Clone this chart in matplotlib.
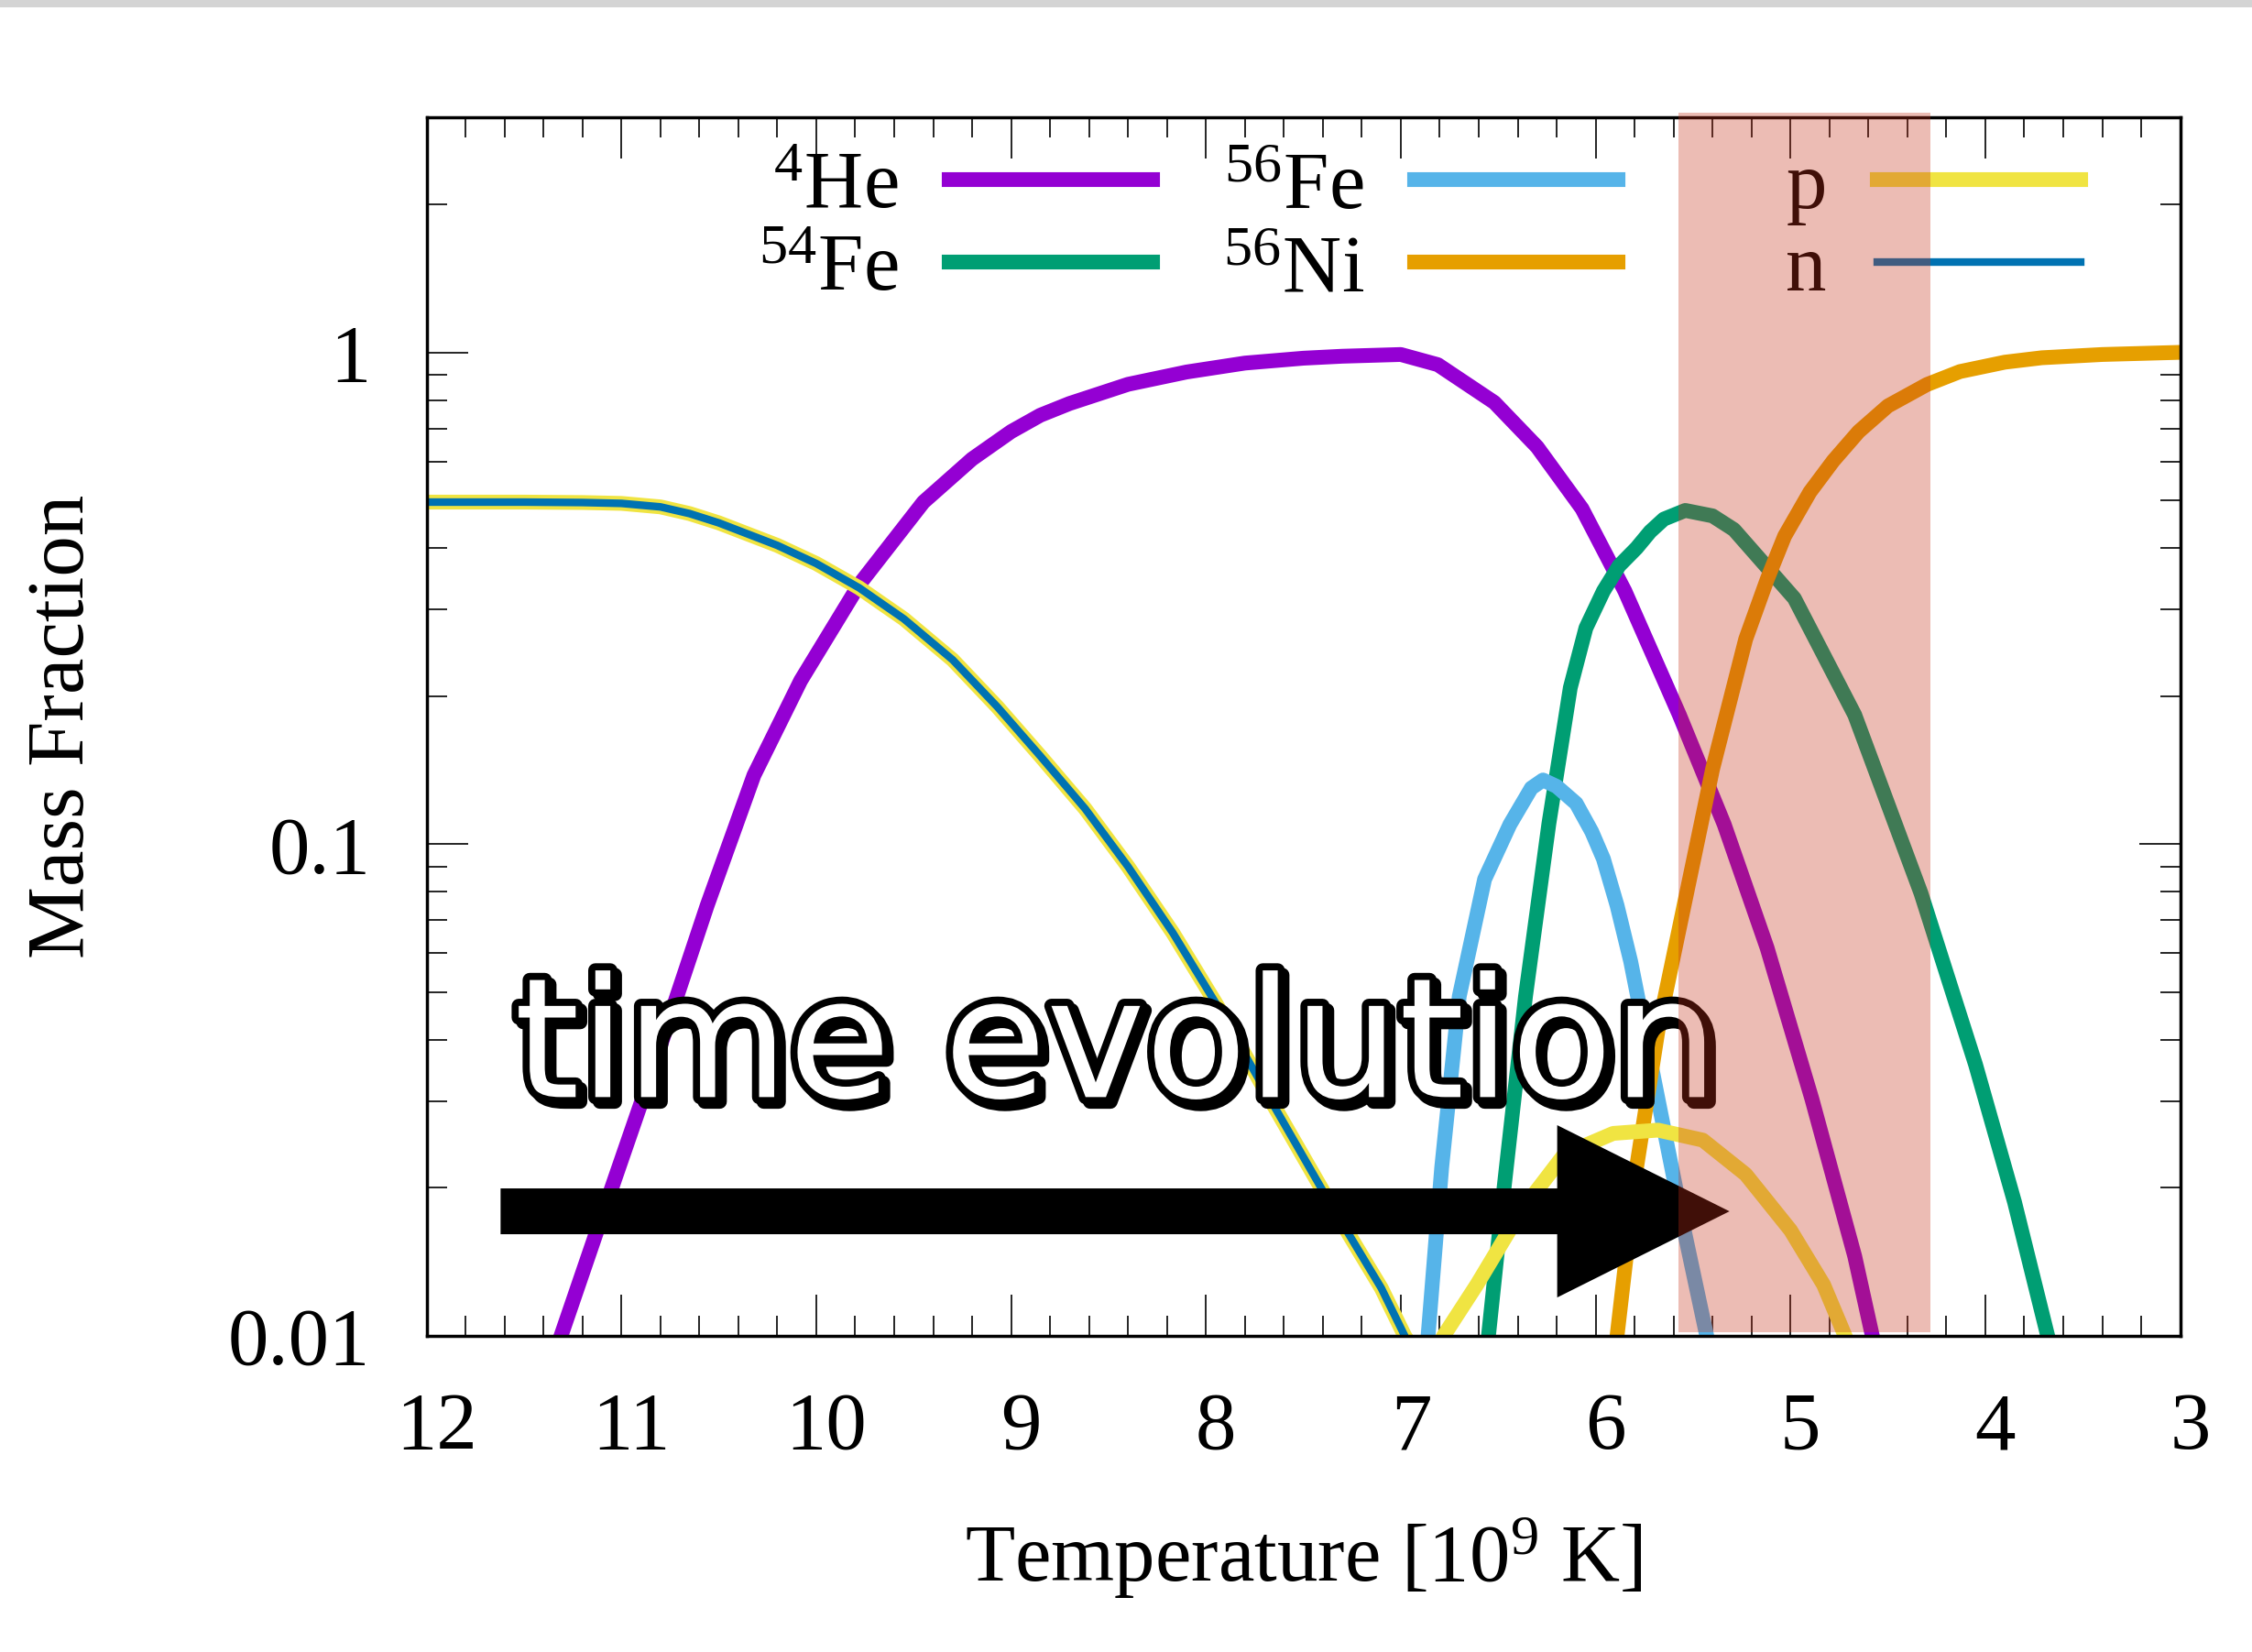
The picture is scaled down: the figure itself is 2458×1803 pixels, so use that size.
import numpy as np
import matplotlib.pyplot as plt
import matplotlib.patheffects as pe
from matplotlib.patches import Rectangle
from matplotlib.transforms import ScaledTranslation
from matplotlib.ticker import MultipleLocator, LogLocator, FixedLocator, FixedFormatter, NullFormatter

plt.rcParams['font.family'] = 'Liberation Serif'
plt.rcParams['mathtext.fontset'] = 'custom'
plt.rcParams['mathtext.rm'] = 'Liberation Serif'
plt.rcParams['mathtext.it'] = 'Liberation Serif:italic'

# Mass fractions vs temperature [10^9 K]
T_he = [11.45, 11.31, 11.10, 10.86, 10.56, 10.32, 10.08, 9.78, 9.45, 9.20, 9.00,
        8.85, 8.70, 8.40, 8.10, 7.80, 7.50, 7.30, 7.00, 6.81, 6.52, 6.30, 6.07,
        5.85, 5.57, 5.34, 5.12, 4.89, 4.67, 4.58, 4.50]
X_he = [0.007, 0.0100, 0.0175, 0.033, 0.075, 0.138, 0.215, 0.337, 0.496, 0.607,
        0.69, 0.745, 0.787, 0.861, 0.912, 0.951, 0.973, 0.982, 0.99, 0.944,
        0.791, 0.642, 0.481, 0.327, 0.183, 0.1096, 0.0615, 0.0303, 0.0145,
        0.0100, 0.0075]

T_fe54 = [6.62, 6.55, 6.47, 6.36, 6.24, 6.13, 6.05, 5.96, 5.88, 5.79, 5.72, 5.65,
          5.54, 5.40, 5.29, 4.98, 4.67, 4.33, 4.05, 3.85, 3.68, 3.62]
X_fe54 = [0.007, 0.0100, 0.020, 0.049, 0.11, 0.208, 0.275, 0.327, 0.368, 0.400,
          0.432, 0.458, 0.477, 0.465, 0.436, 0.316, 0.183, 0.0794, 0.0356, 0.0187,
          0.0100, 0.008]

T_fe56 = [6.90, 6.86, 6.79, 6.70, 6.57, 6.44, 6.33, 6.27, 6.20, 6.10, 6.02, 5.96,
          5.89, 5.82, 5.68, 5.54, 5.43, 5.40]
X_fe56 = [0.008, 0.0100, 0.022, 0.049, 0.0848, 0.1096, 0.130, 0.135, 0.131, 0.121,
          0.106, 0.0933, 0.075, 0.0577, 0.0303, 0.016, 0.0100, 0.009]

T_ni56 = [5.93, 5.89, 5.79, 5.68, 5.57, 5.40, 5.23, 5.12, 5.03, 4.90, 4.78, 4.65,
          4.50, 4.30, 4.13, 3.90, 3.71, 3.40, 3.00]
X_ni56 = [0.008, 0.0100, 0.022, 0.0418, 0.0676, 0.142, 0.261, 0.345, 0.423, 0.520,
          0.602, 0.690, 0.778, 0.860, 0.914, 0.955, 0.975, 0.99, 1.0]

T_p = [12.0, 11.5, 11.2, 11.0, 10.8, 10.65, 10.5, 10.2, 10.0, 9.78, 9.55, 9.30,
       9.07, 8.85, 8.62, 8.40, 8.17, 7.95, 7.65, 7.38, 7.10, 6.98, 6.87, 6.78,
       6.61, 6.38, 6.16, 5.91, 5.68, 5.45, 5.23, 5.00, 4.83, 4.72, 4.65]
X_p = [0.496, 0.496, 0.495, 0.493, 0.485, 0.470, 0.45, 0.405, 0.372, 0.332, 0.287,
       0.237, 0.19, 0.151, 0.118, 0.090, 0.066, 0.0475, 0.0293, 0.0191, 0.0125,
       0.0100, 0.0085, 0.0100, 0.0127, 0.018, 0.0234, 0.0258, 0.0262, 0.025,
       0.0213, 0.0164, 0.0127, 0.0100, 0.0085]

T_n = [12.0, 11.5, 11.2, 11.0, 10.8, 10.65, 10.5, 10.2, 10.0, 9.78, 9.55, 9.30,
       9.07, 8.85, 8.62, 8.40, 8.17, 7.95, 7.65, 7.38, 7.10, 6.98, 6.90]
X_n = [0.496, 0.496, 0.495, 0.493, 0.485, 0.470, 0.45, 0.405, 0.372, 0.332, 0.287,
       0.237, 0.19, 0.151, 0.118, 0.090, 0.066, 0.0475, 0.0293, 0.0191, 0.0125,
       0.0100, 0.0075]

# temperature window highlighted on the plot
band_T = (5.576, 4.282)

fig = plt.figure(figsize=(12.29, 9.015), dpi=200)
ax = fig.add_axes([0.18942, 0.19140, 0.77868, 0.73733])

# grey strip along the top edge
fig.add_artist(Rectangle((0, 1 - 8.3 / 1803), 1, 8.3 / 1803, transform=fig.transFigure,
                         color='#d4d4d4', lw=0))

lw = 5.8
ax.plot(T_he, X_he, color='#9400d3', lw=lw, label=r'$^{4}$He')
ax.plot(T_fe54, X_fe54, color='#009e73', lw=lw, label=r'$^{54}$Fe')
ax.plot(T_fe56, X_fe56, color='#56b4e9', lw=lw, label=r'$^{56}$Fe')
ax.plot(T_ni56, X_ni56, color='#e69f00', lw=lw, label=r'$^{56}$Ni')
ax.plot(T_p, X_p, color='#f0e442', lw=lw, label='p')
ax.plot(T_n, X_n, color='#0072b2', lw=3.0, label='n')

ax.set_yscale('log')
ax.set_xlim(12, 3)
ax.set_ylim(0.01, 3)

ax.xaxis.set_major_locator(MultipleLocator(1))
ax.xaxis.set_minor_locator(MultipleLocator(0.2))
ax.yaxis.set_major_locator(FixedLocator([0.01, 0.1, 1]))
ax.yaxis.set_major_formatter(FixedFormatter(['0.01', '0.1', '1']))
ax.yaxis.set_minor_locator(LogLocator(base=10, subs=np.arange(2, 10)))
ax.yaxis.set_minor_formatter(NullFormatter())

ax.tick_params(which='both', direction='in', top=True, right=True, labelsize=32,
               width=0.6, pad=22)
ax.tick_params(which='major', length=16.2)
ax.tick_params(which='minor', length=7.9)
for s in ax.spines.values():
    s.set_linewidth(1.25)

# x tick labels sit a little right of their ticks
shift = ScaledTranslation(11 / 200, 0, fig.dpi_scale_trans)
for lab in ax.get_xticklabels():
    lab.set_transform(lab.get_transform() + shift)

ax.set_xlabel('Temperature [10$^{9}$ K]', fontsize=32)
ax.xaxis.set_label_coords(0.5, -0.147)
ax.set_ylabel('Mass Fraction', fontsize=32)
ax.yaxis.set_label_coords(-0.186, 0.5)

handles, labels = ax.get_legend_handles_labels()
leg_kw = dict(markerfirst=False, frameon=False, handlelength=2.5, handletextpad=0.62,
              columnspacing=0.86, labelspacing=0.106, borderpad=0, borderaxespad=0,
              fontsize=32, loc='upper right')
leg1 = ax.legend(handles[:4], labels[:4], ncol=2, bbox_to_anchor=(0.6795, 0.973), **leg_kw)
ax.add_artist(leg1)
ax.legend(handles[4:], labels[4:], ncol=1, bbox_to_anchor=(0.9434, 0.973), **leg_kw)

# arrow and caption
ax.annotate('', xy=(0.743, 0.1022), xytext=(0.0422, 0.1022),
            xycoords='axes fraction', textcoords='axes fraction',
            arrowprops=dict(arrowstyle='simple,head_length=0.677,head_width=0.677,tail_width=0.18',
                            fc='black', ec='none', shrinkA=0, shrinkB=0, mutation_scale=100),
            zorder=8)
ax.text(0.050, 0.196, 'time evolution', transform=ax.transAxes, family='DejaVu Sans',
        fontsize=65.5, color='white', ha='left', va='baseline', zorder=9,
        path_effects=[pe.Stroke(linewidth=5.6, foreground='black', offset=(1.8, -1.8)),
                      pe.Stroke(linewidth=5.6, foreground='black'),
                      pe.Normal()])

ax.axvspan(band_T[0], band_T[1], ymin=0.003, ymax=1.004, color='#c53119', alpha=0.325,
           lw=0, zorder=10, clip_on=False)

fig.savefig('out.png', dpi=200)
